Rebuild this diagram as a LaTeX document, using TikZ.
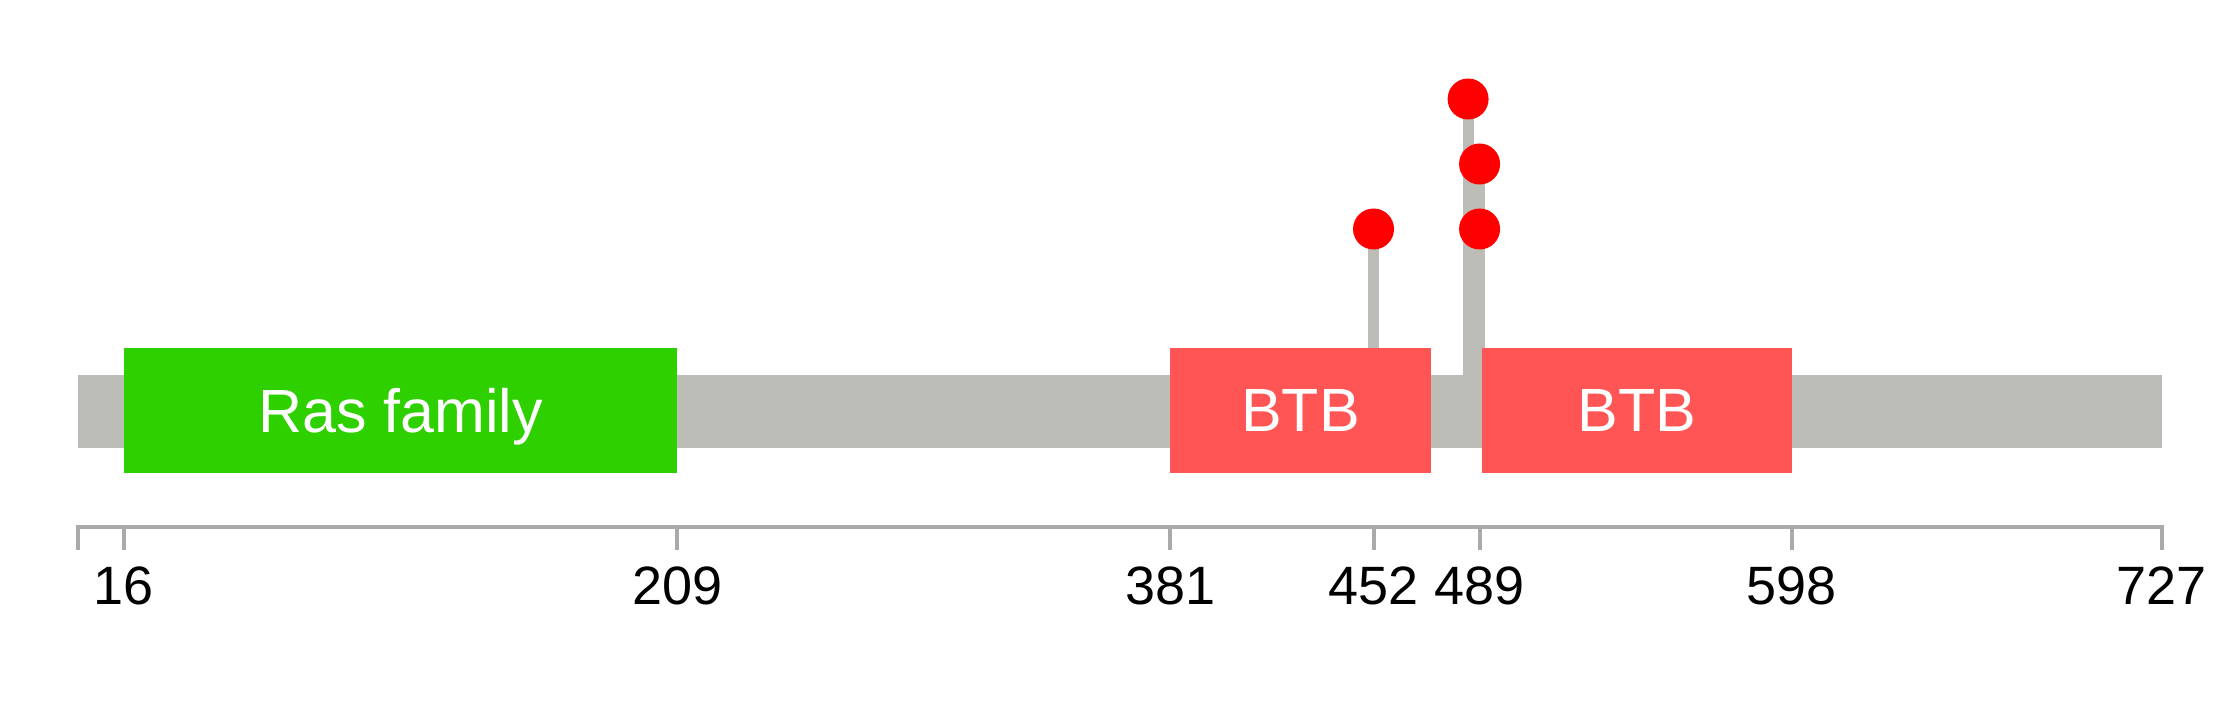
\documentclass[tikz,border=0pt]{standalone}
\usepackage{fontspec}
\setmainfont{Liberation Sans}
\usepackage{xcolor}
\usetikzlibrary{positioning}

\definecolor{chaingray}{RGB}{187,189,182}
\definecolor{rasgreen}{RGB}{46,208,0}
\definecolor{btbred}{RGB}{255,85,85}
\definecolor{axisgray}{RGB}{170,170,170}

% residue number -> horizontal position
\newcommand{\rx}[1]{78.1+2.866*(#1)}

\begin{document}
\begin{tikzpicture}[
        x=1pt, y=-1pt,
        % --- Looks of the parts ---
        chainbar/.style={rectangle, fill=chaingray, inner sep=0pt,
            minimum height=73pt, anchor=west},
        domainbox/.style={rectangle, inner sep=0pt, minimum height=125pt,
            text=white, text depth=0pt, font=\fontsize{61}{61}\selectfont},
        site/.style={circle, fill=red, inner sep=0pt, minimum size=41pt},
        stick/.style={draw=chaingray, line width=11pt},
        axistick/.style={draw=axisgray, line width=4pt},
        ticklabel/.style={inner sep=0pt, font=\fontsize{54}{54}\selectfont}
    ]
    \useasboundingbox (0,0) rectangle (2239,708);

    % ==================== 1. PROTEIN CHAIN ====================
    \node[chainbar, minimum width={2.866*727pt}] (backbone) at ({\rx{0}},411.5) {};

    % ==================== 2. MUTATION STICKS ====================
    \coordinate (p452)  at ({\rx{452}},229);
    \coordinate (p485)  at ({\rx{485}},99);
    \coordinate (p489a) at ({\rx{489}},164);
    \coordinate (p489b) at ({\rx{489}},229);

    \draw[stick] (p452)  -- (p452 |- backbone.north);
    \draw[stick] (p485)  -- (p485 |- backbone.north);
    \draw[stick] (p489a) -- (p489a |- backbone.north);

    % ==================== 3. DOMAINS ====================
    \node[domainbox, fill=rasgreen, minimum width={2.866*193pt}]
        (ras)  at ({\rx{112.5}},410.5) {Ras family};
    \node[domainbox, fill=btbred, minimum width={2.866*91pt}]
        (btba) at ({\rx{426.5}},410.5) {BTB};
    \node[domainbox, fill=btbred, minimum width={2.866*108pt}]
        (btbb) at ({\rx{544}},410.5)   {BTB};

    % ==================== 4. MUTATION HEADS ====================
    \node[site] (m452)  at (p452)  {};
    \node[site] (m485)  at (p485)  {};
    \node[site] (m489a) at (p489a) {};
    \node[site] (m489b) at (p489b) {};

    % ==================== 5. RESIDUE AXIS ====================
    \draw[axistick] ({\rx{0}},527) -- ({\rx{727}},527);
    \draw[axistick] ({\rx{0}},525) -- ++(0,25);
    \foreach \p in {16,209,381,452,489,598,727} {
        \draw[axistick] ({\rx{\p}},525) -- ++(0,25);
        \node[ticklabel] (lab\p) at ({\rx{\p}},586) {\p};
    }

\end{tikzpicture}
\end{document}
